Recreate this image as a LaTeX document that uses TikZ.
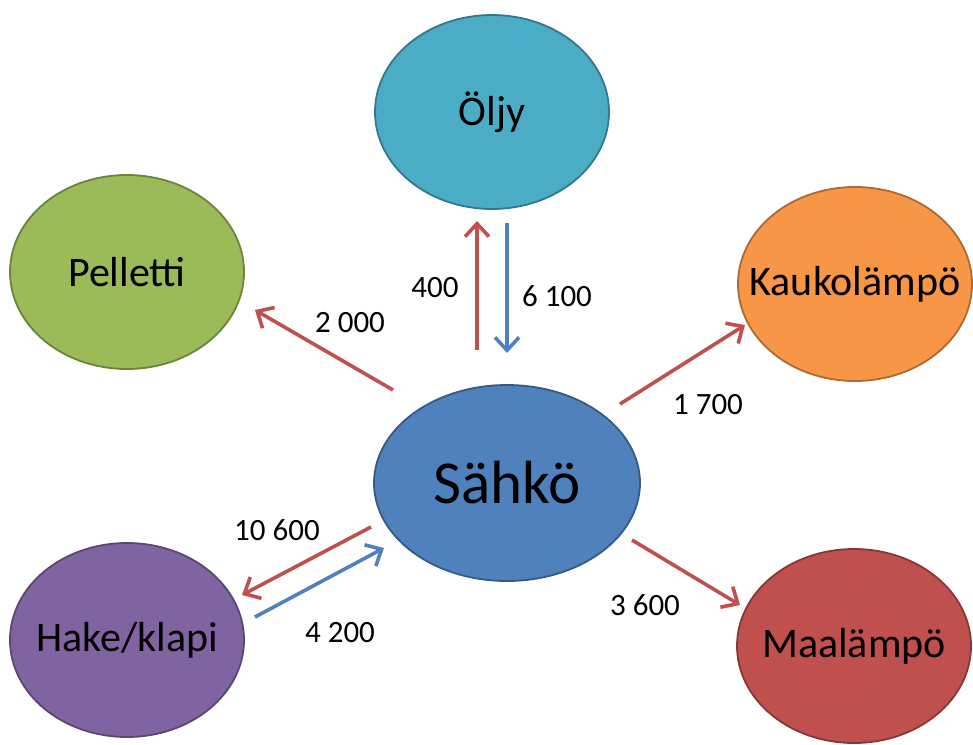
\documentclass[tikz,border=0pt]{standalone}
\usepackage{fontspec}
\setmainfont{Carlito}
\usetikzlibrary{shapes.geometric,arrows.meta}
\definecolor{cOil}{HTML}{4BACC6}
\definecolor{cPel}{HTML}{9BBB59}
\definecolor{cKau}{HTML}{F79646}
\definecolor{cSah}{HTML}{4F81BD}
\definecolor{cHak}{HTML}{8064A2}
\definecolor{cMaa}{HTML}{C0504D}
\definecolor{aRed}{HTML}{C0504D}\definecolor{aBlue}{HTML}{4F81BD}
\newcommand{\zw}[1]{\makebox[0pt]{#1}}
\tikzset{
  blob/.style={ellipse, draw=#1!70!black, line width=1.8pt, fill=#1, inner sep=0pt,
     minimum width=234pt, minimum height=194pt, font=\fontsize{42}{48}\selectfont},
  flow/.style={line width=3.6pt, -{Straight Barb[length=13pt,width=24pt,line width=3.6pt]}},
  num/.style={font=\fontsize{31}{34}\selectfont, inner sep=0pt},
}
\begin{document}
\begin{tikzpicture}[x=1pt,y=-1pt]
\useasboundingbox (0,0) rectangle (973,744);
\node[blob=cOil] (oil) at (492,112) {\zw{Öljy}};
\node[blob=cPel] (pel) at (127,272) {\zw{Pelletti}};
\node[blob=cKau] (kau) at (855,284) {\zw{Kaukolämpö}};
\node[blob=cSah, minimum width=266pt, minimum height=196pt, font=\fontsize{61}{70}\selectfont] (sah) at (507,483) {\zw{Sähkö}};
\node[blob=cHak] (hak) at (127,640) {\zw{Hake/klapi}};
\node[blob=cMaa] (maa) at (854,646) {\zw{Maalämpö}};
% arrow end points
\coordinate (p1) at (393,390); \coordinate (p2) at (255,310);
\coordinate (o1) at (477,350); \coordinate (o2) at (477,221);
\coordinate (o3) at (507,223); \coordinate (o4) at (507,353);
\coordinate (k1) at (620,404); \coordinate (k2) at (745,325);
\coordinate (m1) at (632,540); \coordinate (m2) at (740,605);
\coordinate (h1) at (371,527); \coordinate (h2) at (242,595);
\coordinate (h3) at (255,617); \coordinate (h4) at (384,548);
\draw[flow, aRed] (p1) -- (p2);
\draw[flow, aRed] (o1) -- (o2);
\draw[flow, aBlue] (o3) -- (o4);
\draw[flow, aRed] (k1) -- (k2);
\draw[flow, aRed] (m1) -- (m2);
\draw[flow, aRed] (h1) -- (h2);
\draw[flow, aBlue] (h3) -- (h4);
\node[num] (l1) at (350,323) {2 000};
\node[num] (l2) at (435,288) {400};
\node[num] (l3) at (557,296) {6 100};
\node[num] (l4) at (708,405) {1 700};
\node[num] (l5) at (645,605) {3 600};
\node[num] (l6) at (277,530) {10 600};
\node[num] (l7) at (340,633) {4 200};
\end{tikzpicture}
\end{document}
